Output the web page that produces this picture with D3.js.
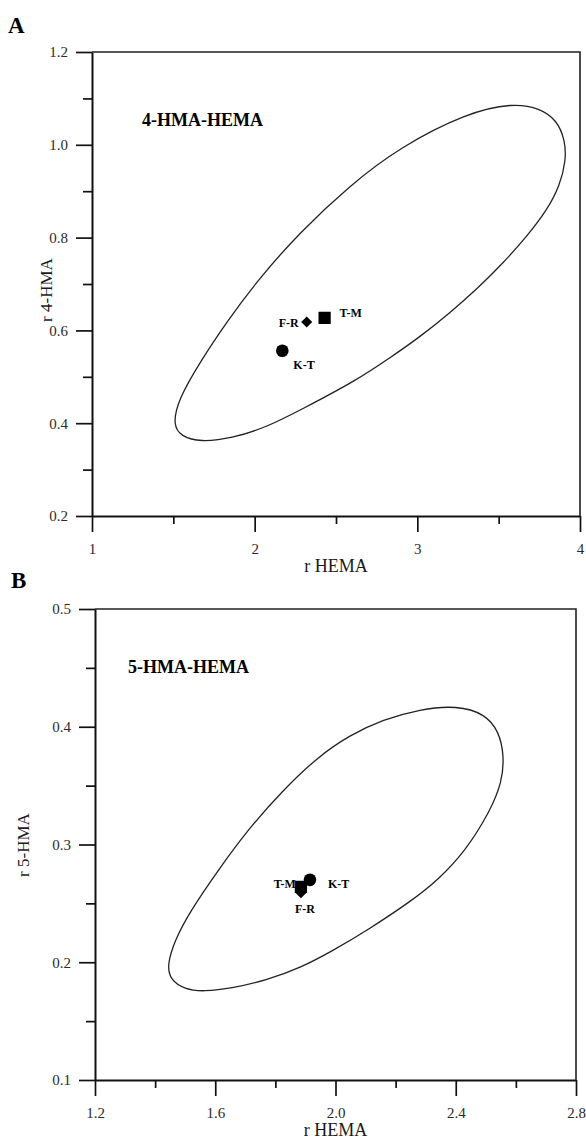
<!DOCTYPE html>
<html>
<head>
<meta charset="utf-8">
<script src="https://cdnjs.cloudflare.com/ajax/libs/d3/7.8.5/d3.min.js"></script>
<style>
  body { margin: 0; background: #fff; }
  svg { display: block; }
  text { font-family: "Liberation Serif", "Times New Roman", serif; }
</style>
</head>
<body>
<div id="chart"></div>
<script>
// methods used to estimate the reactivity ratios
const methods = ["F-R", "T-M", "K-T"]

// panel A : 4-HMA / HEMA
const rHemaA = [2.32, 2.43, 2.17]
const r4Hma = [0.618, 0.627, 0.556]
// 95% joint confidence contour
const contourAx = [1.498, 1.529, 1.664, 1.836, 2.020, 2.279, 2.586, 2.893, 3.305, 3.588, 3.754, 3.858, 3.908, 3.914, 3.877, 3.797, 3.674, 3.527, 3.373, 3.201, 3.016, 2.832, 2.629, 2.279, 2.076, 1.867, 1.664, 1.547]
const contourAy = [0.396, 0.450, 0.532, 0.622, 0.709, 0.812, 0.913, 0.995, 1.069, 1.090, 1.079, 1.053, 1.010, 0.967, 0.913, 0.859, 0.803, 0.745, 0.691, 0.638, 0.586, 0.541, 0.493, 0.428, 0.392, 0.368, 0.359, 0.372]
const xTicksA = [1, 2, 3, 4]
const xMinorA = [1.5, 2.5, 3.5]
const yTicksA = [0.2, 0.4, 0.6, 0.8, 1.0, 1.2]
const yMinorA = [0.3, 0.5, 0.7, 0.9, 1.1]

// panel B : 5-HMA / HEMA
const rHemaB = [1.885, 1.885, 1.915]
const r5Hma = [0.259, 0.264, 0.270]
const contourBx = [1.440, 1.466, 1.516, 1.606, 1.716, 1.825, 1.939, 2.048, 2.158, 2.281, 2.404, 2.497, 2.544, 2.561, 2.554, 2.514, 2.431, 2.341, 2.258, 2.105, 1.992, 1.882, 1.772, 1.659, 1.559, 1.499, 1.450]
const contourBy = [0.198, 0.219, 0.243, 0.277, 0.315, 0.346, 0.374, 0.393, 0.406, 0.415, 0.418, 0.411, 0.396, 0.375, 0.353, 0.328, 0.294, 0.270, 0.253, 0.227, 0.210, 0.195, 0.185, 0.178, 0.175, 0.177, 0.185]
const xTicksB = [1.2, 1.6, 2.0, 2.4, 2.8]
const xMinorB = [1.4, 1.8, 2.2, 2.6]
const yTicksB = [0.1, 0.2, 0.3, 0.4, 0.5]
const yMinorB = [0.15, 0.25, 0.35, 0.45]

const svg = d3.select("#chart").append("svg")
  .attr("width", 586)
  .attr("height", 1140)

const symbols = {"F-R": "diamond", "T-M": "square", "K-T": "circle"}

const panels = [
  {
    letter: "A", title: "4-HMA-HEMA", yLabel: "r 4-HMA", xLabel: "r HEMA",
    xs: rHemaA, ys: r4Hma, cx: contourAx, cy: contourAy,
    xDomain: [1, 4], yDomain: [0.2, 1.2],
    xTicks: xTicksA, xMinor: xMinorA, yTicks: yTicksA, yMinor: yMinorA,
    xFmt: d3.format("d"), yFmt: d3.format(".1f"),
    left: 92, right: 580, top: 52, bottom: 516,
    letterPos: [8, 33], titlePos: [142, 126], yLabelPos: [52, 290],
    labels: {"F-R": [-8, 5, "end"], "T-M": [15, -1, "start"], "K-T": [11, 18, "start"]}
  },
  {
    letter: "B", title: "5-HMA-HEMA", yLabel: "r 5-HMA", xLabel: "r HEMA",
    xs: rHemaB, ys: r5Hma, cx: contourBx, cy: contourBy,
    xDomain: [1.2, 2.8], yDomain: [0.1, 0.5],
    xTicks: xTicksB, xMinor: xMinorB, yTicks: yTicksB, yMinor: yMinorB,
    xFmt: d3.format(".1f"), yFmt: d3.format(".1f"),
    left: 95, right: 576, top: 609, bottom: 1080,
    letterPos: [11, 588], titlePos: [128, 673], yLabelPos: [29, 845],
    labels: {"F-R": [4, 20, "middle"], "T-M": [-5, 1, "end"], "K-T": [18, 8, "start"]}
  }
]

panels.forEach(p => {
  const x = d3.scaleLinear().domain(p.xDomain).range([p.left, p.right])
  const y = d3.scaleLinear().domain(p.yDomain).range([p.bottom, p.top])
  const g = svg.append("g")

  const styleAxis = sel => {
    sel.selectAll("line").attr("stroke", "#111").attr("stroke-width", 1.7)
    sel.selectAll("text").attr("font-family", "Liberation Serif, serif").attr("font-size", 15).attr("fill", "#2a2a2a")
  }

  // minor ticks first, no labels
  g.append("g").attr("transform", `translate(0,${p.bottom})`)
    .call(d3.axisBottom(x).tickValues(p.xMinor).tickSize(8).tickFormat(""))
    .call(s => s.select(".domain").remove()).call(styleAxis)
  g.append("g").attr("transform", `translate(${p.left},0)`)
    .call(d3.axisLeft(y).tickValues(p.yMinor).tickSize(9).tickFormat(""))
    .call(s => s.select(".domain").remove()).call(styleAxis)

  // major ticks with labels
  g.append("g").attr("transform", `translate(0,${p.bottom})`)
    .call(d3.axisBottom(x).tickValues(p.xTicks).tickSize(16).tickSizeOuter(0).tickPadding(11).tickFormat(p.xFmt))
    .call(s => s.select(".domain").attr("stroke", "#111").attr("stroke-width", 2))
    .call(styleAxis)
  g.append("g").attr("transform", `translate(${p.left},0)`)
    .call(d3.axisLeft(y).tickValues(p.yTicks).tickSize(16).tickSizeOuter(0).tickPadding(8).tickFormat(p.yFmt))
    .call(s => s.select(".domain").attr("stroke", "#111").attr("stroke-width", 2))
    .call(styleAxis)

  // top and right frame
  g.append("path")
    .attr("d", `M${x(p.xDomain[0])},${y(p.yDomain[1])}H${x(p.xDomain[1])}V${y(p.yDomain[0])}`)
    .attr("fill", "none").attr("stroke", "#222").attr("stroke-width", 1.6)

  // confidence contour
  const pts = p.cx.map((v, i) => [v, p.cy[i]])
  g.append("path")
    .datum(pts)
    .attr("d", d3.line().x(d => x(d[0])).y(d => y(d[1])).curve(d3.curveBasisClosed))
    .attr("fill", "none").attr("stroke", "#222").attr("stroke-width", 1.3)

  // estimates
  methods.forEach((m, i) => {
    const kind = symbols[m]
    const px = x(p.xs[i]), py = y(p.ys[i])
    let sym
    if (kind === "circle") sym = d3.symbol(d3.symbolCircle, 125)
    else if (kind === "square") sym = d3.symbol(d3.symbolSquare, 150)
    else sym = d3.symbol(d3.symbolSquare, 62)
    g.append("path")
      .attr("d", sym())
      .attr("transform", `translate(${px},${py})` + (kind === "diamond" ? " rotate(45)" : ""))
      .attr("fill", "#000")
    const lab = p.labels[m]
    g.append("text")
      .attr("x", px + lab[0]).attr("y", py + lab[1])
      .attr("text-anchor", lab[2])
      .attr("font-size", 12).attr("font-weight", "bold")
      .text(m)
  })

  // texts
  g.append("text").attr("x", p.letterPos[0]).attr("y", p.letterPos[1])
    .attr("font-size", 23).attr("font-weight", "bold").text(p.letter)
  g.append("text").attr("x", p.titlePos[0]).attr("y", p.titlePos[1])
    .attr("font-size", 18).attr("font-weight", "bold").text(p.title)
  g.append("text")
    .attr("x", (p.left + p.right) / 2).attr("y", p.bottom + 56)
    .attr("text-anchor", "middle").attr("font-size", 18).attr("fill", "#1a1a1a")
    .text(p.xLabel)
  g.append("text")
    .attr("transform", `translate(${p.yLabelPos[0]},${p.yLabelPos[1]}) rotate(-90)`)
    .attr("text-anchor", "middle").attr("font-size", 17).attr("fill", "#1a1a1a")
    .text(p.yLabel)
})
</script>
</body>
</html>
